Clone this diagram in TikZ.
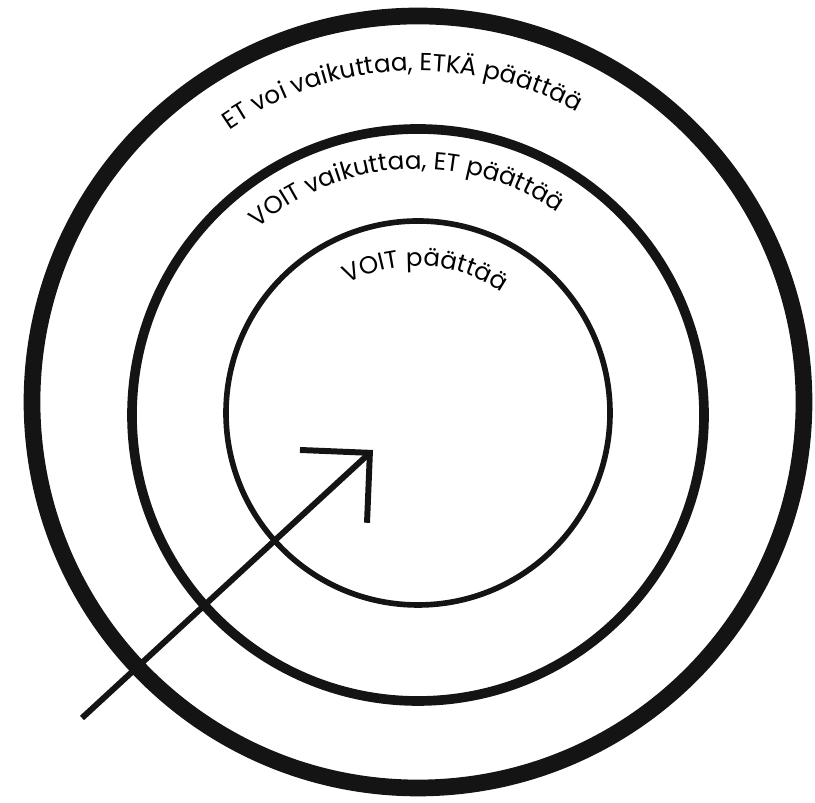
\documentclass[tikz,border=0pt]{standalone}
\usepackage{fontspec}
\setmainfont{Poppins}
\usepackage{tikz}
\usetikzlibrary{arrows.meta, decorations.text}
\newcommand{\ringfont}{\fontsize{14}{16}\selectfont}

\begin{document}
\begin{tikzpicture}[
    x=0.02cm, y=0.02cm,
    % Style definitions
    ring/.style={draw=black!92},
    outerring/.style={ring, line width=9.5pt},
    midring/.style={ring, line width=5.5pt},
    innerring/.style={ring, line width=3.2pt},
    ringtext/.style={decorate, decoration={text along path, text align=center, text={#1}}},
    bigarrow/.style={-{Straight Barb[length=0.99cm, width=1.98cm, sharp]}, line width=3.4pt, black!92}
]
    \useasboundingbox (0,0) rectangle (815,803);

    % === CENTRES ===
    \coordinate (c_outer) at (418,401);
    \coordinate (c_mid) at (418,388);
    \coordinate (c_inner) at (418,390);

    % === RINGS ===
    \draw [outerring] (c_outer) circle (386);
    \draw [midring] (c_mid) circle (286);
    \draw [innerring] (c_inner) circle (192);

    % === LABELS ===
    \path [ringtext={|\ringfont|ET voi vaikuttaa, ETKÄ päättää}]
        (c_outer) ++(173:331) arc [start angle=173, end angle=13, radius=331];
    \path [ringtext={|\ringfont|VOIT vaikuttaa, ET päättää}]
        (c_mid) ++(173:246) arc [start angle=173, end angle=13, radius=246];
    \path [ringtext={|\ringfont|VOIT päättää}]
        (c_inner) ++(167:147) arc [start angle=167, end angle=7, radius=147];

    % === ARROW ===
    \coordinate (a_tail) at (82,85);
    \coordinate (a_tip) at (373,353);
    \draw [bigarrow] (a_tail) -- (a_tip);

\end{tikzpicture}
\end{document}
